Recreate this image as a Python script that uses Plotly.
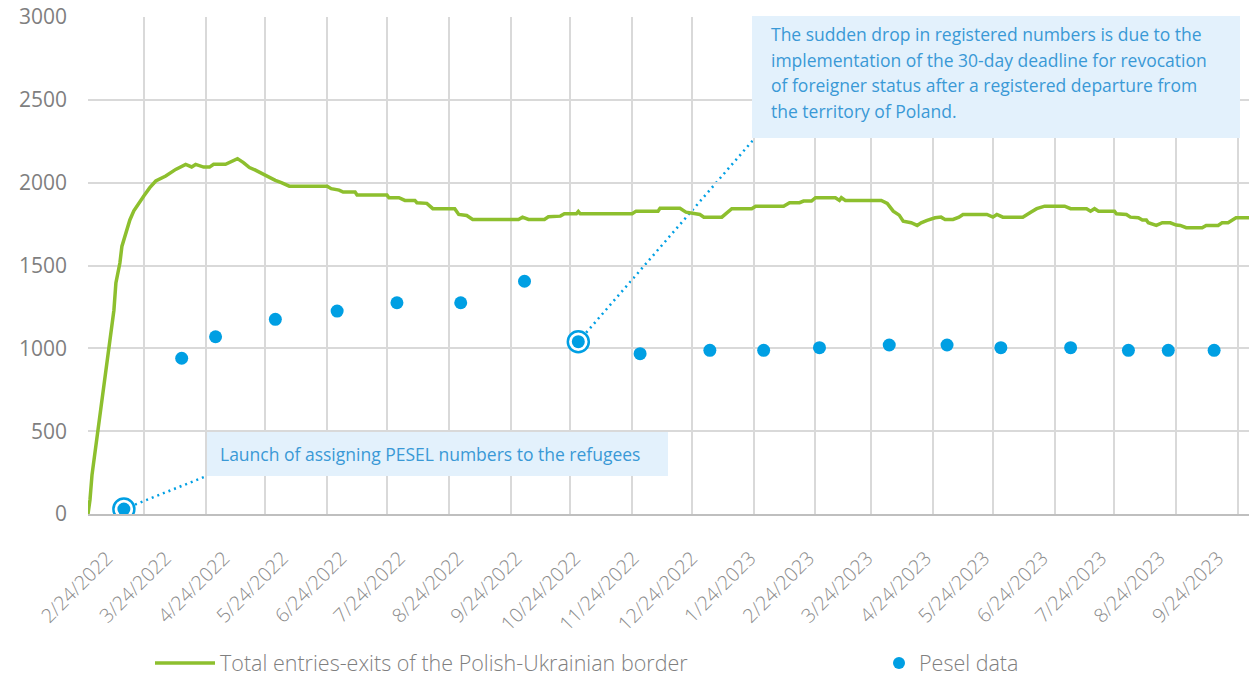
import pandas as pd
import plotly.graph_objects as go

# ---------------- data ----------------
border_dates = [
    "2022-02-24", "2022-02-25", "2022-02-26", "2022-03-01", "2022-03-04", "2022-03-07",
    "2022-03-09", "2022-03-10", "2022-03-12", "2022-03-13", "2022-03-14", "2022-03-17",
    "2022-03-19", "2022-03-21", "2022-03-24", "2022-03-27", "2022-03-30", "2022-04-04",
    "2022-04-09", "2022-04-14", "2022-04-17", "2022-04-19", "2022-04-23", "2022-04-26",
    "2022-04-28", "2022-05-04", "2022-05-07", "2022-05-10", "2022-05-13", "2022-05-16",
    "2022-05-19", "2022-05-23", "2022-05-26", "2022-05-29", "2022-06-01", "2022-06-05",
    "2022-06-24", "2022-06-26", "2022-06-30", "2022-07-02", "2022-07-08", "2022-07-09",
    "2022-07-24", "2022-07-25", "2022-07-30", "2022-08-02", "2022-08-07", "2022-08-08",
    "2022-08-13", "2022-08-16", "2022-08-27", "2022-08-29", "2022-09-02", "2022-09-05",
    "2022-09-28", "2022-09-30", "2022-10-03", "2022-10-11", "2022-10-13", "2022-10-19",
    "2022-10-21", "2022-10-27", "2022-10-28", "2022-10-29", "2022-11-24", "2022-11-26",
    "2022-12-07", "2022-12-08", "2022-12-18", "2022-12-21", "2022-12-28", "2022-12-30",
    "2023-01-08", "2023-01-13", "2023-01-23", "2023-01-25", "2023-02-08", "2023-02-11",
    "2023-02-16", "2023-02-18", "2023-02-22", "2023-02-24", "2023-03-06", "2023-03-08",
    "2023-03-09", "2023-03-11", "2023-03-29", "2023-04-01", "2023-04-04", "2023-04-07",
    "2023-04-09", "2023-04-13", "2023-04-16", "2023-04-18", "2023-04-21", "2023-04-25",
    "2023-04-28", "2023-04-30", "2023-05-04", "2023-05-07", "2023-05-09", "2023-05-21",
    "2023-05-24", "2023-05-26", "2023-05-29", "2023-06-08", "2023-06-12", "2023-06-15",
    "2023-06-19", "2023-06-29", "2023-07-02", "2023-07-10", "2023-07-12", "2023-07-14",
    "2023-07-16", "2023-07-24", "2023-07-25", "2023-07-30", "2023-08-01", "2023-08-05",
    "2023-08-07", "2023-08-09", "2023-08-10", "2023-08-14", "2023-08-17", "2023-08-21",
    "2023-08-24", "2023-08-26", "2023-08-29", "2023-09-06", "2023-09-08", "2023-09-14",
    "2023-09-16", "2023-09-19", "2023-09-23", "2023-09-30",
]
border_values = [
    0, 85, 235, 505, 790, 1030,
    1230, 1395, 1515, 1615, 1655, 1775,
    1830, 1870, 1920, 1970, 2010, 2040,
    2080, 2110, 2095, 2110, 2094, 2094,
    2111, 2111, 2131, 2145, 2121, 2091,
    2076, 2050, 2030, 2014, 2000, 1979,
    1979, 1964, 1955, 1943, 1943, 1925,
    1925, 1909, 1909, 1893, 1893, 1879,
    1875, 1843, 1843, 1808, 1802, 1778,
    1778, 1792, 1778, 1778, 1794, 1798,
    1812, 1812, 1826, 1812, 1812, 1828,
    1828, 1845, 1845, 1822, 1808, 1792,
    1792, 1843, 1843, 1858, 1858, 1879,
    1879, 1889, 1889, 1909, 1909, 1893,
    1909, 1893, 1893, 1875, 1828, 1804,
    1768, 1758, 1742, 1758, 1772, 1788,
    1792, 1778, 1778, 1792, 1808, 1808,
    1792, 1808, 1792, 1792, 1822, 1843,
    1858, 1858, 1843, 1843, 1828, 1843,
    1828, 1828, 1812, 1808, 1792, 1788,
    1774, 1774, 1758, 1742, 1758, 1758,
    1744, 1742, 1728, 1728, 1742, 1742,
    1758, 1758, 1788, 1788,
]

pesel_dates = [
    "2022-03-14", "2022-04-12", "2022-04-29", "2022-05-29", "2022-06-29", "2022-07-29",
    "2022-08-30", "2022-10-01", "2022-10-28", "2022-11-28", "2023-01-02", "2023-01-29",
    "2023-02-26", "2023-04-02", "2023-05-01", "2023-05-28", "2023-07-02", "2023-07-31",
    "2023-08-20", "2023-09-12",
]
pesel_values = [
    30, 940, 1070, 1175, 1225, 1275,
    1275, 1405, 1040, 968, 988, 988,
    1004, 1020, 1020, 1004, 1004, 988,
    988, 988,
]
highlight_idx = [0, 8]

grid_dates = [
    "2022-02-24", "2022-03-24", "2022-04-24", "2022-05-24", "2022-06-24", "2022-07-24",
    "2022-08-24", "2022-09-24", "2022-10-24", "2022-11-24", "2022-12-24", "2023-01-24",
    "2023-02-24", "2023-03-24", "2023-04-24", "2023-05-24", "2023-06-24", "2023-07-24",
    "2023-08-24", "2023-09-24",
]
tick_labels = [
    "2/24/2022", "3/24/2022", "4/24/2022", "5/24/2022", "6/24/2022", "7/24/2022",
    "8/24/2022", "9/24/2022", "10/24/2022", "11/24/2022", "12/24/2022", "1/24/2023",
    "2/24/2023", "3/24/2023", "4/24/2023", "5/24/2023", "6/24/2023", "7/24/2023",
    "8/24/2023", "9/24/2023",
]
y_ticks = [0, 500, 1000, 1500, 2000, 2500, 3000]

note1 = "Launch of assigning PESEL numbers to the refugees"
note2_lines = [
    "The sudden drop in registered numbers is due to the",
    "implementation of the 30-day deadline for revocation",
    "of foreigner status after a registered departure from",
    "the territory of Poland.",
]

# ---------------- style / layout ----------------
GREEN = "#8DBF2E"
BLUE = "#009FE3"
GRID = "#D9D9D9"
NOTE_BG = "#E3F1FC"
NOTE_TXT = "#3A99D6"
LABEL = "#7F7F7F"

W, H = 1249, 677
PL, PR, PT, PB = 88, 1249, 17, 514
X_START, X_END = "2022-02-24", "2023-09-29T12:00"

# rotated date labels are spread evenly (as in the original), slightly off the grid
LABEL_FIRST_PX, LABEL_LAST_PX = 107, 1218


def pxx(px):
    return (px - PL) / (PR - PL)


def pxy(py):
    return (PB - py) / (PB - PT)


_t0, _t1 = pd.Timestamp(X_START), pd.Timestamp(X_END)
_ppd = (PR - PL) / ((_t1 - _t0) / pd.Timedelta(days=1))
_step = (LABEL_LAST_PX - LABEL_FIRST_PX) / (len(tick_labels) - 1)
label_pos = [
    (_t0 + pd.Timedelta(days=(LABEL_FIRST_PX + _step * i - PL) / _ppd)).isoformat()
    for i in range(len(tick_labels))
]

fig = go.Figure()
fig.add_trace(go.Scatter(
    x=border_dates, y=border_values, mode="lines",
    line=dict(color=GREEN, width=3.5),
    name="Total entries-exits of the Polish-Ukrainian border",
    legend="legend",
))
fig.add_trace(go.Scatter(
    x=[pesel_dates[i] for i in highlight_idx],
    y=[pesel_values[i] for i in highlight_idx],
    mode="markers",
    marker=dict(symbol="circle", size=21, color="white", line=dict(color=BLUE, width=2.5)),
    showlegend=False, hoverinfo="skip",
))
fig.add_trace(go.Scatter(
    x=pesel_dates, y=pesel_values, mode="markers",
    marker=dict(color=BLUE, size=13),
    name="Pesel data",
    legend="legend2",
))

shapes = []
annotations = []

# note 1 box + connector
shapes.append(dict(type="rect", xref="paper", yref="paper",
                   x0=pxx(207), x1=pxx(668), y0=pxy(476), y1=pxy(432),
                   fillcolor=NOTE_BG, line=dict(width=0), layer="above"))
shapes.append(dict(type="line", xref="x", yref="y",
                   x0=pesel_dates[highlight_idx[0]], y0=pesel_values[highlight_idx[0]],
                   x1="2022-04-24", y1=227,
                   line=dict(color=BLUE, width=2.5, dash="2px,4px"), layer="below"))
annotations.append(dict(xref="paper", yref="paper", x=pxx(218), y=pxy(454),
                        xanchor="left", yanchor="middle", showarrow=False,
                        text=note1, font=dict(size=17.5, color=NOTE_TXT)))

# note 2 box + connector
shapes.append(dict(type="rect", xref="paper", yref="paper",
                   x0=pxx(752), x1=pxx(1240), y0=pxy(138), y1=pxy(16),
                   fillcolor=NOTE_BG, line=dict(width=0), layer="above"))
shapes.append(dict(type="line", xref="x", yref="y",
                   x0=pesel_dates[highlight_idx[1]], y0=pesel_values[highlight_idx[1]],
                   x1="2023-01-24T17:00", y1=2271,
                   line=dict(color=BLUE, width=2.5, dash="2px,4px"), layer="below"))
for i, line in enumerate(note2_lines):
    annotations.append(dict(xref="paper", yref="paper", x=pxx(769), y=pxy(34.5 + 25.5 * i),
                            xanchor="left", yanchor="middle", showarrow=False,
                            text=line, font=dict(size=17.5, color=NOTE_TXT)))

legend_common = dict(
    orientation="h", yanchor="middle", xanchor="left", y=pxy(663),
    font=dict(size=21.5, color=LABEL, weight=300), bgcolor="rgba(0,0,0,0)",
)

fig.update_layout(
    width=W, height=H,
    margin=dict(l=PL, r=W - PR, t=PT, b=H - PB, pad=0, autoexpand=False),
    plot_bgcolor="white", paper_bgcolor="white",
    font=dict(family="Open Sans", color=LABEL),
    showlegend=True,
    xaxis=dict(
        type="date", range=[X_START, X_END],
        tickmode="array", tickvals=label_pos, ticktext=tick_labels,
        tickangle=-45, ticks="",
        tickfont=dict(size=19.5, color="#8C8C8C", weight=300),
        ticklabelstandoff=23,
        showgrid=False,
        minor=dict(tickmode="array", tickvals=grid_dates, showgrid=True,
                   gridcolor=GRID, gridwidth=1.5, ticks=""),
        showline=True, linecolor="#BFBFBF", linewidth=2,
        zeroline=False, fixedrange=True, automargin=False,
    ),
    yaxis=dict(
        range=[0, 3000], tickmode="array", tickvals=y_ticks,
        ticks="", tickfont=dict(size=21, color=LABEL),
        ticklabelstandoff=20,
        showgrid=True, gridcolor=GRID, gridwidth=1.5,
        showline=False, zeroline=False, fixedrange=True, automargin=False,
    ),
    legend=dict(x=pxx(150), itemwidth=60, **legend_common),
    legend2=dict(x=pxx(879), itemsizing="constant", **legend_common),
    shapes=shapes,
    annotations=annotations,
)

fig.write_html(
    "out.html",
    config={"displayModeBar": False},
    post_script="document.body.style.margin='0';document.body.style.overflow='hidden';",
)
